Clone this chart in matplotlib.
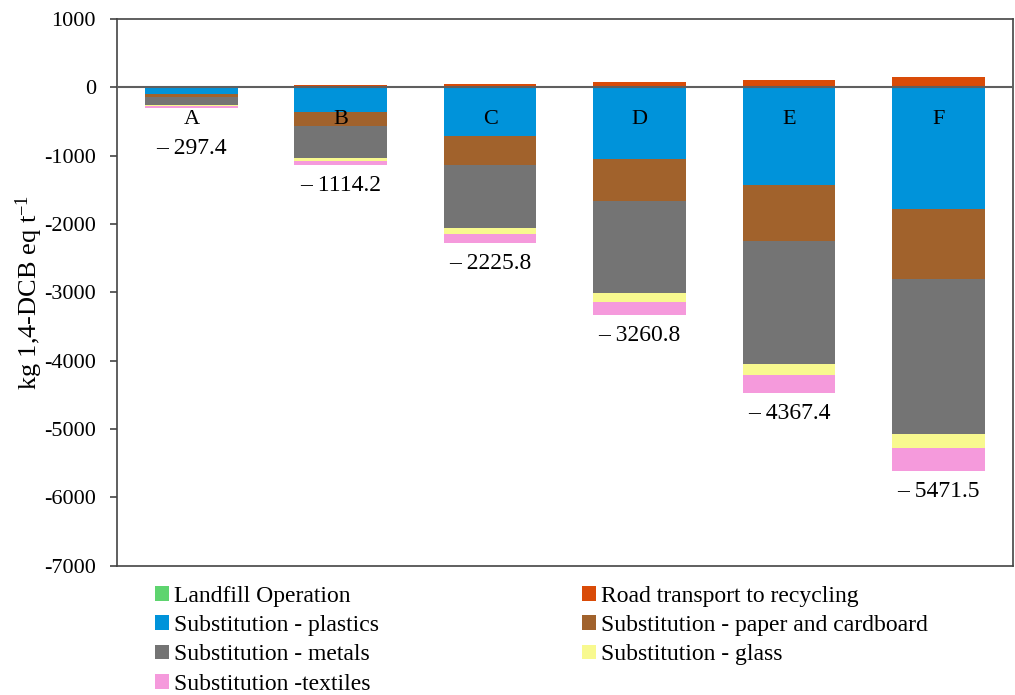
import matplotlib
matplotlib.use("Agg")
import matplotlib.pyplot as plt
from matplotlib.patches import Patch
import numpy as np

plt.rcParams['font.family'] = ['Liberation Serif', 'DejaVu Serif']
plt.rcParams['axes.unicode_minus'] = False
plt.rcParams['mathtext.default'] = 'regular'

categories = ['A', 'B', 'C', 'D', 'E', 'F']
totals = [-297.4, -1114.2, -2225.8, -3260.8, -4367.4, -5471.5]

landfill = [2, 2, 2, 2, 2, 2]
road = [5, 25, 50, 75, 105, 140]
plastics = [-98, -365, -721, -1051, -1426, -1781]
paper = [-48, -209, -418, -619, -818, -1032]
metals = [-122, -460, -915, -1337, -1802, -2256]
glass = [-12, -44, -93, -137, -170, -214]
textiles = [-25, -63, -131, -195, -258, -331]

series_names = ['Landfill Operation', 'Road transport to recycling',
                'Substitution - plastics', 'Substitution - paper and cardboard',
                'Substitution - metals', 'Substitution - glass',
                'Substitution -textiles']
colors = {
    'Landfill Operation': '#5ED46F',
    'Road transport to recycling': '#D94B08',
    'Substitution - plastics': '#0093DA',
    'Substitution - paper and cardboard': '#A1622C',
    'Substitution - metals': '#747474',
    'Substitution - glass': '#F8F98F',
    'Substitution -textiles': '#F59ADC',
}
data = {
    'Landfill Operation': landfill,
    'Road transport to recycling': road,
    'Substitution - plastics': plastics,
    'Substitution - paper and cardboard': paper,
    'Substitution - metals': metals,
    'Substitution - glass': glass,
    'Substitution -textiles': textiles,
}

fig = plt.figure(figsize=(10.15, 6.95), dpi=100)
ax = fig.add_axes([0.115, 0.186, 0.883, 0.787])

x = np.arange(len(categories))
width = 0.62
pos_bottom = np.zeros(len(categories))
neg_bottom = np.zeros(len(categories))
for name in series_names:
    vals = np.array(data[name], dtype=float)
    bottoms = np.where(vals >= 0, pos_bottom, neg_bottom)
    ax.bar(x, vals, width=width, bottom=bottoms, color=colors[name],
           edgecolor='none', zorder=2)
    pos_bottom = pos_bottom + np.where(vals >= 0, vals, 0)
    neg_bottom = neg_bottom + np.where(vals < 0, vals, 0)

ax.axhline(0, color='#5f5f5f', lw=1.5, zorder=3)

for i, cat in enumerate(categories):
    ax.text(x[i], -470, cat, ha='center', va='center', fontsize=16, zorder=4)
    anchor = min(neg_bottom[i], -600)
    ax.annotate('\u2013 ' + f'{abs(totals[i]):.1f}', (x[i], anchor),
                xytext=(0, -7), textcoords='offset points',
                ha='center', va='top', fontsize=17, zorder=4)

ax.set_xlim(-0.5, 5.5)
ax.set_ylim(-7000, 1000)
ax.set_yticks(np.arange(-7000, 1001, 1000))
ax.set_xticks([])
ax.tick_params(axis='y', labelsize=16, length=5, width=1.2, color='#444444', pad=10)
for s in ax.spines.values():
    s.set_color('#444444')
    s.set_linewidth(1.2)
ax.set_ylabel('kg 1,4-DCB eq t$^{-1}$', fontsize=19)
ax.yaxis.set_label_coords(-0.080, 0.5)

order = ['Landfill Operation', 'Substitution - plastics', 'Substitution - metals',
         'Substitution -textiles', 'Road transport to recycling',
         'Substitution - paper and cardboard', 'Substitution - glass']
handles = [Patch(facecolor=colors[n], edgecolor='none', label=n) for n in order]
fig.legend(handles=handles, loc='upper left', bbox_to_anchor=(0.153, 0.157),
           ncol=2, frameon=False, fontsize=17, handlelength=0.58,
           handleheight=0.58, handletextpad=0.22, labelspacing=0.35,
           columnspacing=8.6, borderaxespad=0, borderpad=0)

fig.savefig('out.png', dpi=100)
